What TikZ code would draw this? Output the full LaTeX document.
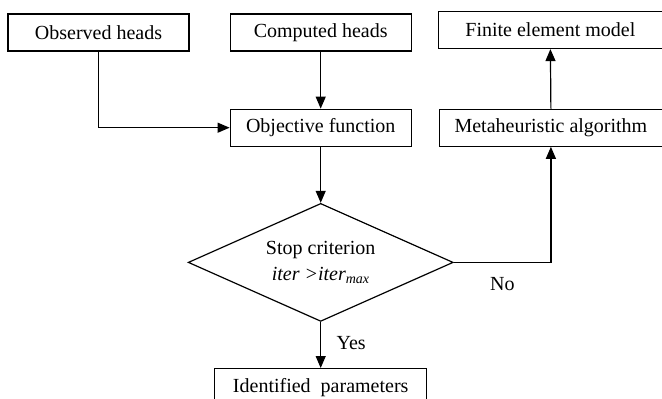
\documentclass[tikz,border=0pt]{standalone}
\usepackage{fontspec}
\setmainfont{Liberation Serif}
\usepackage{tikz}
\usetikzlibrary{positioning,shapes.geometric,arrows.meta}

\begin{document}
\begin{tikzpicture}[x=1pt, y=-1pt,
    font=\fontsize{20}{26}\selectfont,
    stepbox/.style={rectangle, draw, line width=1.2pt, minimum height=37pt, inner sep=3pt},
    testnode/.style={diamond, draw, line width=1.2pt, aspect=2.25, inner sep=0pt,
        minimum width=265pt, minimum height=118pt, align=center},
    flow/.style={line width=1.2pt, -{Triangle[length=12pt,width=10pt]}}
]
\useasboundingbox (0,0) rectangle (662,399);
\node[stepbox, minimum width=181pt](obs) at (98.5,32.5){Observed heads};
\node[stepbox, minimum width=181pt](comp)[right=40pt of obs]{Computed heads};
\node[stepbox, minimum width=224pt](fem)[right=26pt of comp, yshift=2.5pt]{Finite element model};
\node[stepbox, minimum width=181pt](obj)[below=57pt of comp]{Objective function};
\node[stepbox, minimum width=223pt](meta)[right=27pt of obj]{Metaheuristic algorithm};
\node[testnode](stop)[below=56pt of obj]{Stop criterion\\\textit{iter >iter\textsubscript{max}}};
\node[stepbox, minimum width=212pt](ident)[below=46pt of stop]{Identified\ \ parameters};
% connectors
\draw[flow] (obs.south) |- (obj.west);
\draw[flow] (comp.south) -- (obj.north);
\draw[flow] (obj.south) -- (stop.north);
\draw[flow] (stop.east) -| node[pos=0.25, below=11pt]{No} (meta.south);
\draw[flow] (meta.north) -- (fem.south);
\draw[flow] (stop.south) -- node[pos=0.45, right=12pt]{Yes} (ident.north);
\end{tikzpicture}
\end{document}
